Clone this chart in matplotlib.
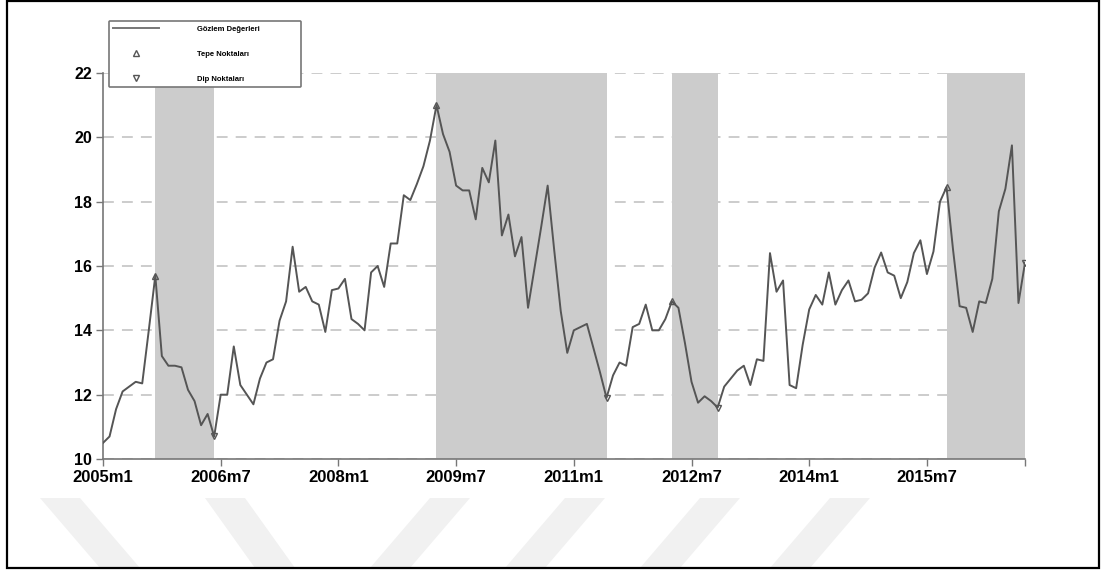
import numpy as np
import matplotlib
matplotlib.use('Agg')
import matplotlib.pyplot as plt
from matplotlib.lines import Line2D
from matplotlib.patches import Rectangle, Polygon

# monthly observations, 2005m1 .. 2016m10
values = [
  10.5, 10.7, 11.55, 12.1, 12.25, 12.4, 12.35, 14.0, 15.7, 13.2,
  12.9, 12.9, 12.85, 12.15, 11.8, 11.05, 11.4, 10.7, 12.0, 12.0,
  13.5, 12.3, 12.0, 11.7, 12.5, 13.0, 13.1, 14.3, 14.9, 16.6,
  15.2, 15.35, 14.9, 14.8, 13.95, 15.25, 15.3, 15.6, 14.35, 14.2,
  14.0, 15.8, 16.0, 15.35, 16.7, 16.7, 18.2, 18.05, 18.55, 19.1,
  19.9, 21.0, 20.1, 19.55, 18.5, 18.35, 18.35, 17.45, 19.05, 18.6,
  19.9, 16.95, 17.6, 16.3, 16.9, 14.7, 15.95, 17.2, 18.5, 16.5,
  14.6, 13.3, 14.0, 14.1, 14.2, 13.45, 12.7, 11.9, 12.6, 13.0,
  12.9, 14.1, 14.2, 14.8, 14.0, 14.0, 14.35, 14.9, 14.7, 13.6,
  12.4, 11.75, 11.95, 11.8, 11.6, 12.25, 12.5, 12.75, 12.9, 12.3,
  13.1, 13.05, 16.4, 15.2, 15.55, 12.3, 12.2, 13.55, 14.65, 15.1,
  14.8, 15.8, 14.8, 15.25, 15.55, 14.9, 14.95, 15.15, 15.95, 16.42,
  15.8, 15.7, 15.0, 15.5, 16.4, 16.8, 15.75, 16.45, 18.0, 18.45,
  16.5, 14.75, 14.7, 13.95, 14.9, 14.85, 15.6, 17.7, 18.4, 19.75,
  14.85, 16.1]
start = '2005m1'
peaks   = ['2005m9', '2009m4', '2012m4', '2015m10']   # Tepe
troughs = ['2006m6', '2011m6', '2012m11', '2016m10']  # Dip
xlabels = ['2005m1', '2006m7', '2008m1', '2009m7', '2011m1', '2012m7', '2014m1', '2015m7']
yticks = [10, 12, 14, 16, 18, 20, 22]

def idx(s):
  y, m = s.split('m')
  y0, m0 = start.split('m')
  return (int(y)-int(y0))*12 + int(m)-int(m0)

plt.rcParams['font.family'] = ['Liberation Sans', 'DejaVu Sans']
W, H = 1103, 574
fig = plt.figure(figsize=(W/100, H/100), dpi=100)

# faint watermark bands under the plot (scanned-page look)
def px(pts): return [(a/W, 1-b/H) for a, b in pts]
for pts in [[(40, 498), (80, 498), (140, 568), (100, 568)],
            [(205, 498), (245, 498), (295, 568), (255, 568)],
            [(430, 498), (470, 498), (410, 568), (370, 568)],
            [(565, 498), (605, 498), (545, 568), (505, 568)],
            [(700, 498), (740, 498), (680, 568), (640, 568)],
            [(830, 498), (870, 498), (810, 568), (770, 568)]]:
  fig.patches.append(Polygon(px(pts), closed=True, transform=fig.transFigure,
                             fc='#f1f1f1', ec='none', zorder=0))

ax = fig.add_axes([103/W, 1-459/H, (1025-103)/W, (459-73)/H])
ax.set_zorder(2)
x = np.arange(len(values))
v = np.array(values)
ax.set_axisbelow(True)
ax.yaxis.grid(True, color='#c8c8c8', lw=1.3, ls=(0, (6, 4.5)))
for p, t in zip(peaks, troughs):
  ax.axvspan(idx(p), idx(t), color='#cccccc', lw=0, zorder=1)
ax.plot(x, v, color='#555555', lw=1.4, zorder=3)
pi = [idx(p) for p in peaks]
ti = [idx(t) for t in troughs]
ax.plot(pi, v[pi], ls='none', marker='^', ms=5, mfc='none', mec='#555555', mew=1.0, zorder=4)
ax.plot(ti, v[ti], ls='none', marker='v', ms=5, mfc='none', mec='#555555', mew=1.0, zorder=4)

ax.set_xlim(0, len(values)-1)
ax.set_ylim(10, 22)
ax.set_yticks(yticks)
ax.set_yticklabels([str(t) for t in yticks], fontsize=11.5, fontweight='bold')
ax.set_xticks([idx(s) for s in xlabels] + [len(values)-1])
ax.set_xticklabels(xlabels + [''], fontsize=12, fontweight='bold')
for s in ['top', 'right']:
  ax.spines[s].set_visible(False)
for s in ['left', 'bottom']:
  ax.spines[s].set_color('#777777')
  ax.spines[s].set_linewidth(1.2)
ax.tick_params(axis='both', color='#777777', length=5, width=1, pad=3)

handles = [Line2D([], [], color='#777777', lw=1.4),
           Line2D([], [], ls='none', marker='^', ms=4, mfc='none', mec='#555555'),
           Line2D([], [], ls='none', marker='v', ms=4, mfc='none', mec='#555555')]
labels = ['Gözlem Değerleri', 'Tepe Noktaları', 'Dip Noktaları']
leg = fig.legend(handles, labels, loc='upper left',
                 bbox_to_anchor=(105/W, 1-97/H, 200/W, 80/H), mode='expand',
                 prop={'size': 5.5, 'weight': 'bold'}, labelspacing=2.3,
                 handlelength=6, handletextpad=5, borderpad=0.6,
                 frameon=True, fancybox=True, framealpha=1, edgecolor='#777777')
leg.get_frame().set_linewidth(1.2)
leg.set_zorder(5)

fig.patches.append(Rectangle((7/W, 6/H), (1099-7)/W, 1-6/H-1/H, transform=fig.transFigure,
                             fill=False, ec='black', lw=1.6))
fig.savefig('out.png', dpi=100)
